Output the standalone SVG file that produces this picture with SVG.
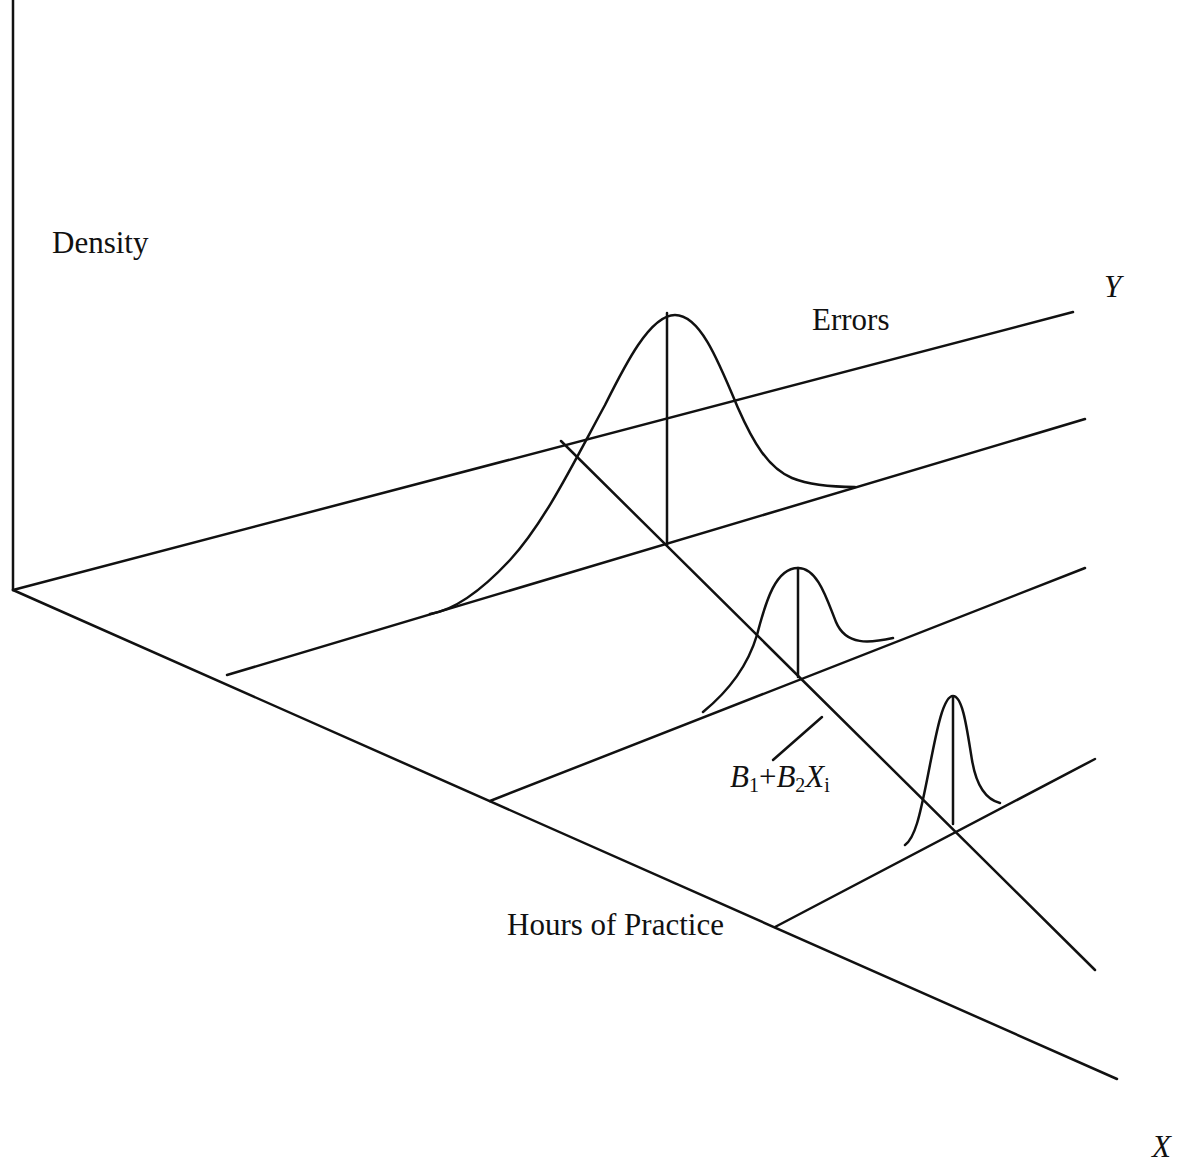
<svg xmlns="http://www.w3.org/2000/svg" width="1179" height="1163" viewBox="0 0 1179 1163">
<style>
.ln{stroke:#111;stroke-width:2.5;fill:none;stroke-linecap:round;stroke-linejoin:round}
.t{font-family:"Liberation Serif","Times New Roman",serif;font-size:31px;fill:#111}
.it{font-style:italic}
.sub{font-size:20px}
</style>
<rect width="1179" height="1163" fill="#fff"/>
<g id="axes">
<line class="ln" x1="13" y1="0" x2="13" y2="590"/>
<line class="ln" x1="13" y1="590" x2="1073" y2="312"/>
<line class="ln" x1="13" y1="590" x2="1117" y2="1079"/>
</g>
<g id="connectors">
<line class="ln" x1="227" y1="675" x2="1085" y2="419"/>
<line class="ln" x1="490" y1="801" x2="1085" y2="568"/>
<line class="ln" x1="775" y1="927" x2="1095" y2="759"/>
<line class="ln" x1="561" y1="441" x2="1095" y2="970"/>
<line class="ln" x1="773" y1="760" x2="822" y2="717"/>
</g>
<g id="curve-large">
<path class="ln" d="M430,614 C455,610 482,590 510,560 C545,522 575,460 605,405 C625,365 650,315 675,315 C700,315 718,360 738,408 C753,442 768,468 792,478 C812,486 838,487 855,487"/>
<line class="ln" x1="667" y1="313" x2="667" y2="545"/>
</g>
<g id="curve-mid">
<path class="ln" d="M703,712 C730,690 748,665 757,635 C766,600 776,568 798,568 C818,568 827,600 836,622 C846,646 870,643 893,638"/>
<line class="ln" x1="798" y1="568" x2="798" y2="677"/>
</g>
<g id="curve-small">
<path class="ln" d="M905,845 C915,838 920,815 927,780 C935,740 942,696 953,696 C963,696 967,730 972,760 C977,790 988,800 1000,803"/>
<line class="ln" x1="953" y1="697" x2="953" y2="824"/>
</g>
<g id="labels">
<text class="t" x="52" y="253">Density</text>
<text class="t" x="812" y="330">Errors</text>
<text class="t" x="507" y="935">Hours of Practice</text>
<text class="t it" x="1104" y="297">Y</text>
<text class="t it" x="1152" y="1157">X</text>
<text class="t" x="730" y="787"><tspan class="it">B</tspan><tspan class="sub" dy="5">1</tspan><tspan dy="-5">+</tspan><tspan class="it">B</tspan><tspan class="sub" dy="5">2</tspan><tspan class="it" dy="-5">X</tspan><tspan class="sub" dy="5">i</tspan></text>
</g>
</svg>
